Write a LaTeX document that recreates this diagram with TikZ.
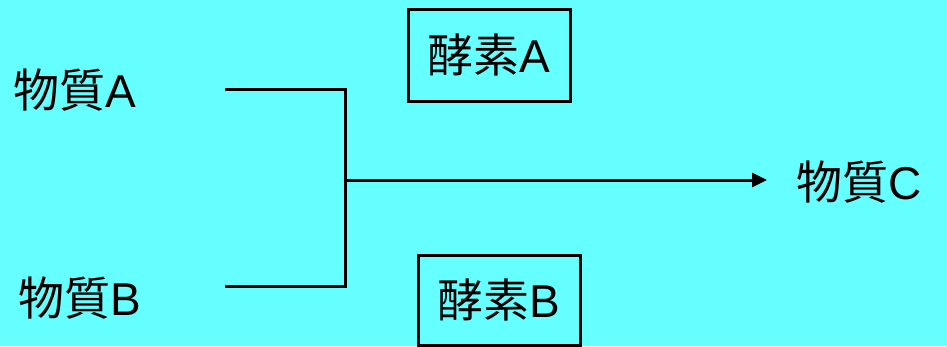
\documentclass[tikz,border=0pt]{standalone}
\usepackage{fontspec}
\setmainfont{Liberation Sans}
\newfontfamily\jpfont{Noto Sans CJK JP}
\usetikzlibrary{arrows.meta}
\definecolor{bgcyan}{RGB}{102,255,255}
\tikzset{
  lbl/.style={inner sep=0pt, anchor=base west, font=\fontsize{46}{50}\selectfont},
  enzbox/.style={draw, line width=3pt, minimum width=162pt, minimum height=92pt, inner sep=0pt, font=\fontsize{46}{50}\selectfont},
  conn/.style={line width=3pt},
  arr/.style={line width=3pt, -{Triangle[length=15pt,width=14pt]}}
}
\begin{document}
\begin{tikzpicture}[x=1pt,y=-1pt]
\fill[bgcyan] (0,0) rectangle (947,346);
\useasboundingbox (0,0) rectangle (947,346);
\node[lbl] (matA) at (13,107) {{\jpfont 物質}A};
\node[lbl] (matB) at (18,315) {{\jpfont 物質}B};
\node[lbl] (matC) at (796,199) {{\jpfont 物質}C};
\node[enzbox] (enzA) at (489,55) {{\jpfont 酵素}A};
\node[enzbox, minimum height=90pt] (enzB) at (499,300) {{\jpfont 酵素}B};
\coordinate (a1) at (225,89);
\coordinate (b1) at (225,286);
\coordinate (jA) at (345,89);
\coordinate (jB) at (345,286);
\coordinate (jM) at (345,180);
\coordinate (tip) at (767,180);
\draw[conn, line join=miter] (a1) -- (jA) -- (jB) -- (b1);
\draw[arr] (jM) -- (tip);
\end{tikzpicture}
\end{document}
